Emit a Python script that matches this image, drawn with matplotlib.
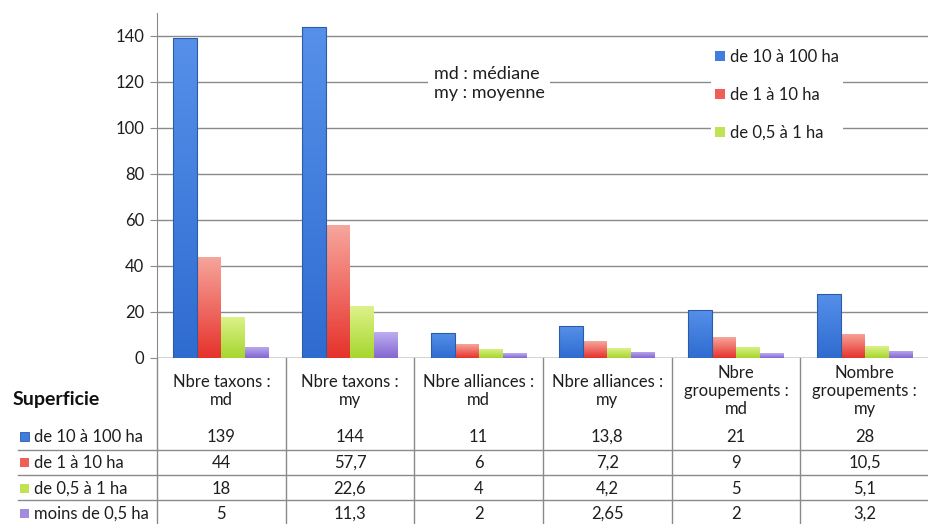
import matplotlib
matplotlib.use("Agg")
import matplotlib.pyplot as plt
import numpy as np
from matplotlib.transforms import blended_transform_factory
from matplotlib.patches import Rectangle
from matplotlib.colors import LinearSegmentedColormap

plt.rcParams['font.family'] = ['Lato', 'DejaVu Sans']

categories = ["Nbre taxons :\nmd", "Nbre taxons :\nmy", "Nbre alliances :\nmd",
              "Nbre alliances :\nmy", "Nbre\ngroupements :\nmd", "Nombre\ngroupements :\nmy"]
series_names = ["de 10 à 100 ha", "de 1 à 10 ha", "de 0,5 à 1 ha", "moins de 0,5 ha"]
s_10_100 = [139, 144, 11, 13.8, 21, 28]
s_1_10 = [44, 57.7, 6, 7.2, 9, 10.5]
s_05_1 = [18, 22.6, 4, 4.2, 5, 5.1]
s_lt_05 = [5, 11.3, 2, 2.65, 2, 3.2]
series = [s_10_100, s_1_10, s_05_1, s_lt_05]
yticks = [0, 20, 40, 60, 80, 100, 120, 140]

tops = ["#5690EA", "#F7A69C", "#DDF28A", "#BDAEF2"]
bottoms = ["#2F6CD0", "#E6322C", "#A6D62E", "#8466D0"]
solid = ["#3F7EDD", "#EE5F58", "#C0E354", "#A08BE0"]
edges = ["#2A5CA8", "none", "none", "none"]

W, H = 929, 524
fig = plt.figure(figsize=(W / 100, H / 100), dpi=100)
fig.patch.set_facecolor("white")

def fx(px):
    return px / W

def fy(py):
    return 1 - py / H

TXT = "#1e1e1e"
ax_left, ax_right, ax_top, ax_bot = 157, 929, 13, 358
ax = fig.add_axes([fx(ax_left), fy(ax_bot), fx(ax_right - ax_left), (ax_bot - ax_top) / H])
n = len(categories)
ax.set_xlim(-0.5, n - 0.5)
ax.set_ylim(0, 150)
ax.set_yticks(yticks)
ax.set_yticklabels([str(t) for t in yticks], fontsize=12, color=TXT)
ax.set_xticks([])
ax.grid(axis="y", color="#8a8a8a", linewidth=1.0)
ax.set_axisbelow(True)
for sp in ["top", "right", "bottom"]:
    ax.spines[sp].set_visible(False)
ax.spines["left"].set_color("#8a8a8a")
ax.tick_params(axis="y", length=5, color="#8a8a8a", pad=4)
ax.axhline(0, color="#8a8a8a", linewidth=1.0, zorder=1)

bw = 0.186
x = np.arange(n)
offsets = (np.arange(4) - 1.5) * bw
grad = np.linspace(0, 1, 256).reshape(-1, 1)
for k, vals in enumerate(series):
    bars = ax.bar(x + offsets[k], vals, width=bw, color=solid[k], edgecolor="none",
                  label=series_names[k], zorder=2)
    cmap = LinearSegmentedColormap.from_list("g%d" % k, [bottoms[k], tops[k]])
    for b in bars:
        x0 = b.get_x()
        im = ax.imshow(grad, cmap=cmap, aspect="auto", origin="lower",
                       extent=[x0, x0 + b.get_width(), 0, max(b.get_height(), 1e-6)],
                       zorder=2.5, interpolation="bilinear")
        im.set_clip_path(b)
        if edges[k] != "none":
            ax.add_patch(Rectangle((x0, 0), b.get_width(), b.get_height(), facecolor="none",
                                   edgecolor=edges[k], linewidth=0.8, zorder=2.6))
ax.set_xlim(-0.5, n - 0.5)
ax.set_ylim(0, 150)

# legend (first three entries)
handles, labels = ax.get_legend_handles_labels()
leg = ax.legend(handles[:3], labels[:3], loc="upper left",
                bbox_to_anchor=(fx(703), fy(36)), bbox_transform=fig.transFigure,
                fontsize=12, frameon=True, handlelength=0.55, handleheight=0.55,
                handletextpad=0.3, labelspacing=1.33, borderpad=0.25)
leg.get_frame().set_edgecolor("none")
leg.get_frame().set_facecolor("white")
leg.get_frame().set_alpha(1)
leg.set_zorder(5)
for t in leg.get_texts():
    t.set_color(TXT)

# md / my note
fig.text(fx(489), fy(83.5), "md : médiane\nmy : moyenne", ha="center", va="center",
         fontsize=13, color=TXT, linespacing=1.3, multialignment="left",
         bbox=dict(boxstyle="square,pad=0.3", facecolor="white", edgecolor="none"))

# data table
tr = blended_transform_factory(ax.transData, fig.transFigure)
line_col = "#8a8a8a"

def fmt(v):
    if float(v).is_integer():
        return str(int(v))
    return ("%g" % v).replace(".", ",")

for i in range(-1, n - 1):
    ax.plot([i + 0.5, i + 0.5], [fy(ax_bot), fy(524)], transform=tr, color=line_col,
            linewidth=1.0, clip_on=False)

for i, c in enumerate(categories):
    ax.text(i, fy(391), c, transform=tr, ha="center", va="center", fontsize=12,
            color=TXT, linespacing=1.15, clip_on=False)
fig.text(fx(13), fy(400), "Superficie", ha="left", va="center", fontsize=14,
         fontweight="bold", color="#111111")

row_y = [437, 463, 489, 514]
row_lines = [450, 475, 500]
for py in row_lines:
    fig.add_artist(plt.Line2D([fx(18), fx(929)], [fy(py), fy(py)], color=line_col,
                              linewidth=1.0))
for k, vals in enumerate(series):
    py = row_y[k]
    fig.add_artist(Rectangle((fx(20), fy(py + 4)), fx(9), 9 / H, facecolor=solid[k],
                             edgecolor=edges[k], linewidth=0.6))
    fig.text(fx(34), fy(py), series_names[k], ha="left", va="center", fontsize=12,
             color=TXT)
    for i, v in enumerate(vals):
        ax.text(i, fy(py), fmt(v), transform=tr, ha="center", va="center", fontsize=12,
                color=TXT, clip_on=False)

fig.savefig("out.png", dpi=100, facecolor="white")
